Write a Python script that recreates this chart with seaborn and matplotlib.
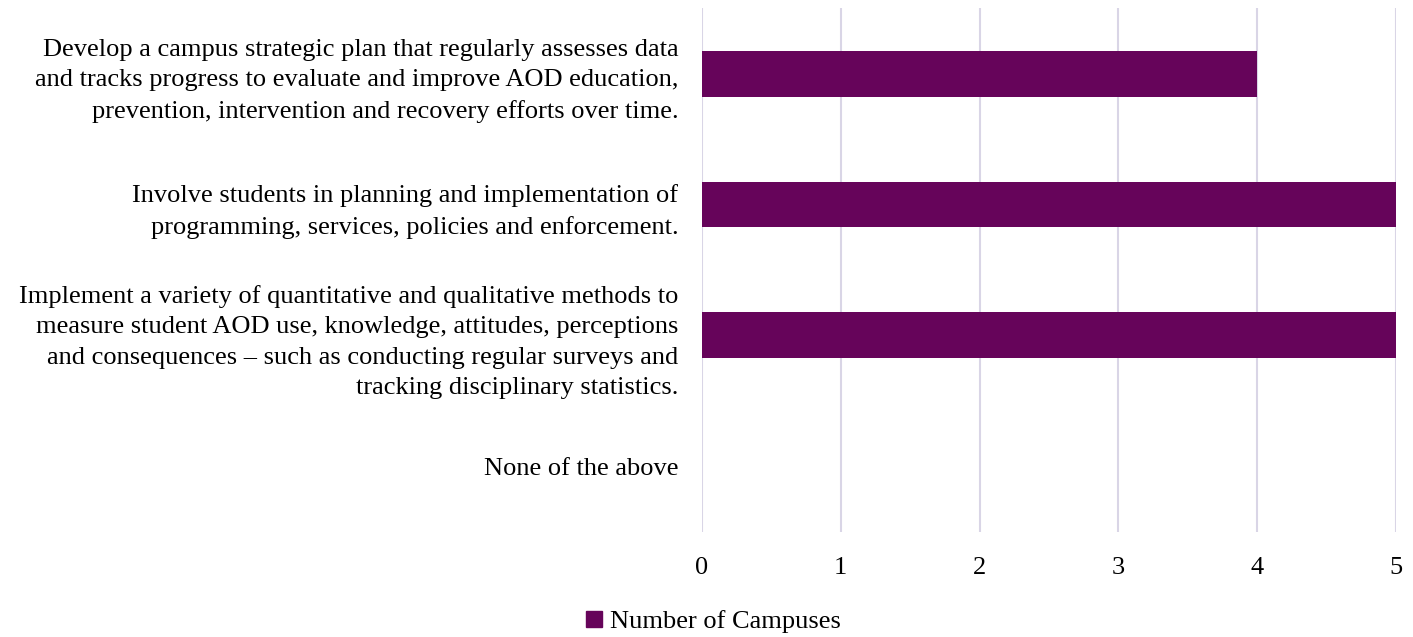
import matplotlib.pyplot as plt
import matplotlib.patches as mpatches
import pandas as pd
import seaborn as sns

# data
categories = [
    "Develop a campus strategic plan that regularly assesses data\n"
    "and tracks progress to evaluate and improve AOD education,\n"
    "prevention, intervention and recovery efforts over time.",
    "Involve students in planning and implementation of\n"
    "programming, services, policies and enforcement.",
    "Implement a variety of quantitative and qualitative methods to\n"
    "measure student AOD use, knowledge, attitudes, perceptions\n"
    "and consequences \u2013 such as conducting regular surveys and\n"
    "tracking disciplinary statistics.",
    "None of the above",
]
campuses = [4, 5, 5, 0]
series_name = "Number of Campuses"

bar_color = "#66045A"
grid_color = "#D9D5E6"

df = pd.DataFrame({"item": categories, "count": campuses})

sns.set_style("white")
plt.rcParams["font.family"] = ["Liberation Serif", "DejaVu Serif"]

fig = plt.figure(figsize=(14.13, 6.37), dpi=100)
ax = fig.add_axes([0.4968, 0.1656, 0.4912, 0.8211])

sns.barplot(data=df, y="item", x="count", orient="h", color=bar_color,
            width=0.35, saturation=1, linewidth=0, ax=ax)

ax.set_xlim(0, 5)
ax.set_xticks(range(0, 6))
ax.xaxis.grid(True, color=grid_color, linewidth=1.5)
ax.set_axisbelow(True)
for s in ax.spines.values():
    s.set_visible(False)
ax.set_xlabel("")
ax.set_ylabel("")
ax.tick_params(axis="both", length=0, labelsize=19, colors="#000000")
ax.tick_params(axis="y", pad=17)
ax.tick_params(axis="x", pad=18)
for lbl in ax.get_yticklabels():
    lbl.set_horizontalalignment("right")
    lbl.set_multialignment("right")
    lbl.set_linespacing(1.5)

handle = mpatches.Patch(color=bar_color, label=series_name)
fig.legend(handles=[handle], loc="center", bbox_to_anchor=(0.505, 0.024),
           frameon=False, fontsize=19, labelcolor="#000000",
           handlelength=0.6, handleheight=0.6, handletextpad=0.3)

fig.savefig("out.png", dpi=100)
